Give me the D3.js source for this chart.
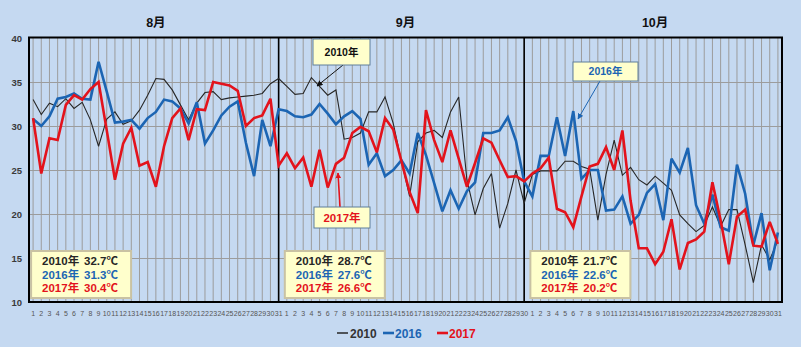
<!DOCTYPE html>
<html><head><meta charset="utf-8">
<script src="https://cdn.jsdelivr.net/npm/d3@7"></script>
<style>
html,body{margin:0;padding:0;background:#c5d9f1;}
svg{display:block;font-family:"Liberation Sans",Arial,"Noto Sans CJK JP",sans-serif;}
</style></head>
<body><svg id="c" width="801" height="347"></svg>
<script>
// ---- data ----
const monthLabels = ["8月", "9月", "10月"];
const monthNums = [8, 9, 10];
const monthDays = [31, 30, 31];
const yTicks = [10, 15, 20, 25, 30, 35, 40];
const seriesNames = ["2010", "2016", "2017"];

const t2010 = [
  33.0,31.3,32.6,32.2,33.1,32.0,32.7,30.7,27.7,30.8,31.6,30.2,30.6,31.8,33.5,35.4,35.3,34.1,32.4,30.7,32.6,33.8,33.9,33.0,33.2,33.3,33.4,33.5,33.7,34.8,35.4,
  34.5,33.6,33.7,35.5,34.5,33.5,34.1,28.5,28.7,29.2,31.6,31.6,33.3,30.3,26.0,22.0,28.2,29.2,29.5,28.7,31.6,33.3,23.9,19.9,22.9,24.6,18.4,21.2,25.0,21.2,
  24.5,24.9,24.9,24.9,26.0,26.0,25.4,25.1,19.3,24.5,28.4,24.4,25.3,23.9,23.3,24.3,23.5,22.7,19.9,18.9,18.0,18.7,20.8,18.6,20.5,20.5,16.5,12.2,16.5,14.8,17.0
];
const t2016 = [
  30.8,30.0,31.1,33.1,33.3,33.7,33.1,33.0,37.3,33.9,30.4,30.5,30.7,29.7,30.9,31.6,33.0,32.8,32.0,30.3,32.7,28.0,29.5,31.2,32.2,32.8,28.1,24.3,30.7,27.7,31.9,
  31.7,31.1,31.0,31.3,32.5,31.4,30.2,31.1,31.7,30.8,25.6,26.9,24.3,25.0,26.1,24.6,29.2,26.7,23.5,20.3,22.7,20.6,22.6,23.6,29.2,29.2,29.5,31.0,28.3,23.7,
  22.0,26.6,26.6,31.0,26.6,31.7,24.0,25.0,25.0,20.4,20.5,22.0,18.9,19.9,22.4,23.4,19.3,26.3,24.7,27.5,21.0,18.9,22.2,18.5,18.1,25.6,22.3,16.5,20.1,13.6,17.9
];
const t2017 = [
  30.9,24.6,28.6,28.4,32.4,33.5,33.0,34.2,35.0,29.5,23.9,28.0,29.8,25.5,25.9,23.1,27.7,30.9,32.0,28.4,31.9,31.8,35.0,34.8,34.6,34.0,30.0,30.9,31.2,33.1,25.5,
  26.9,25.2,26.4,23.1,27.3,23.0,25.7,26.4,29.2,29.9,29.4,27.0,30.9,29.6,26.0,22.5,20.1,31.8,28.4,25.9,29.5,26.3,23.1,25.8,28.6,28.1,26.1,24.2,24.3,23.7,
  24.6,25.2,26.4,20.6,20.2,18.5,22.0,25.4,25.7,27.6,25.0,29.5,21.5,16.1,16.1,14.3,15.7,19.4,13.7,16.7,17.1,18.0,23.6,19.3,14.3,19.7,20.5,16.4,16.3,19.1,16.6
];
const avg2010 = ["32.7", "28.7", "21.7"];
const avg2016 = ["31.3", "27.6", "22.6"];
const avg2017 = ["30.4", "26.6", "20.2"];

// ---- derived ----
const categories = [];
monthNums.forEach((m, mi) => { for (let d = 1; d <= monthDays[mi]; d++) categories.push(m + "/" + d); });
const dayOf = c => c.split("/")[1];

const colors = { "2010": "#262626", "2016": "#1c65b3", "2017": "#e3131c" };
const widths = { "2010": 1.1, "2016": 2.6, "2017": 2.6 };
const series = [
  { name: "2010", values: t2010, avg: avg2010 },
  { name: "2016", values: t2016, avg: avg2016 },
  { name: "2017", values: t2017, avg: avg2017 }
];

const L = 29, R = 782, T = 38, B = 302;
const svg = d3.select("#c");
const x = d3.scalePoint().domain(categories).range([L, R]).padding(0.5);
const y = d3.scaleLinear().domain([10, 40]).range([B, T]);

// grid
const g = svg.append("g");
g.selectAll(".vg").data(categories).join("line")
  .attr("x1", d => x(d)).attr("x2", d => x(d)).attr("y1", T).attr("y2", B)
  .attr("stroke", "#9c9c9c").attr("stroke-width", 1);
g.selectAll(".hg").data(yTicks.filter(v => v > 10 && v < 40)).join("line")
  .attr("x1", L).attr("x2", R).attr("y1", d => Math.round(y(d)) + 0.5).attr("y2", d => Math.round(y(d)) + 0.5)
  .attr("stroke", "#9c9c9c").attr("stroke-width", 1);

// y labels
svg.append("g").selectAll("text").data(yTicks).join("text")
  .attr("x", 22).attr("y", d => y(d) + 3.5).attr("text-anchor", "end")
  .attr("font-size", 9.5).attr("font-weight", "bold").attr("fill", "#3a3a3a").text(d => d);

// x labels
svg.append("g").selectAll("text").data(categories).join("text")
  .attr("x", d => x(d)).attr("y", 316).attr("text-anchor", "middle")
  .attr("font-size", 7).attr("fill", "#555").text(d => dayOf(d));

// month labels & dividers
let start = 0;
monthNums.forEach((m, mi) => {
  const first = categories[start], last = categories[start + monthDays[mi] - 1];
  svg.append("text").attr("x", (x(first) + x(last)) / 2).attr("y", 27)
    .attr("text-anchor", "middle").attr("font-size", 12.5).attr("font-weight", "bold")
    .attr("fill", "#111").text(monthLabels[mi]);
  if (mi < monthNums.length - 1) {
    svg.append("line").attr("x1", x(last)).attr("x2", x(last)).attr("y1", T).attr("y2", B)
      .attr("stroke", "#000").attr("stroke-width", 1.6);
  }
  // summary box
  const bx = x(first) - 2, by = 251;
  svg.append("rect").attr("x", bx).attr("y", by).attr("width", 100).attr("height", 47)
    .attr("fill", "#ffffcc").attr("stroke", "#c9c2a3").attr("stroke-width", 2);
  series.forEach((s, si) => {
    const ty = 265 + si * 13.7;
    svg.append("text").attr("x", bx + 11).attr("y", ty).attr("font-size", 11.5).attr("font-weight", "bold")
      .attr("fill", colors[s.name]).text(s.name + "年");
    svg.append("text").attr("x", bx + 53).attr("y", ty).attr("font-size", 11.5).attr("font-weight", "bold")
      .attr("fill", colors[s.name]).text(s.avg[mi] + "℃");
  });
  start += monthDays[mi];
});

// frame
svg.append("rect").attr("x", L).attr("y", T - 0.5).attr("width", R - L).attr("height", B - T + 0.5)
  .attr("fill", "none").attr("stroke", "#000").attr("stroke-width", 2);

// lines
const line = d3.line().x((d, i) => x(categories[i])).y(d => y(d));
series.forEach(s => {
  svg.append("path").attr("d", line(s.values)).attr("fill", "none")
    .attr("stroke", colors[s.name]).attr("stroke-width", widths[s.name])
    .attr("stroke-linejoin", "miter").attr("stroke-miterlimit", 3);
});

// arrow markers
const defs = svg.append("defs");
Object.entries({ k: "#111", b: "#1c65b3", r: "#e3131c" }).forEach(([k, c]) => {
  defs.append("marker").attr("id", "m" + k).attr("viewBox", "0 0 10 10").attr("refX", 9).attr("refY", 5)
    .attr("markerWidth", 6).attr("markerHeight", 6).attr("markerUnits", "userSpaceOnUse").attr("orient", "auto")
    .append("path").attr("d", "M0,0L10,5L0,10z").attr("fill", c);
});

// annotations
const notes = [
  { text: "2010年", c: "#111", m: "k", bx: 313, by: 39, bw: 57, bh: 26, fs: 10.5, ax1: 343, ay1: 65, ax2: 317, ay2: 86 },
  { text: "2016年", c: "#1c65b3", m: "b", bx: 573, by: 62, bw: 65, bh: 19, fs: 10.5, ax1: 600, ay1: 81, ax2: 578, ay2: 119 },
  { text: "2017年", c: "#e3131c", m: "r", bx: 314, by: 207, bw: 56, bh: 21, fs: 11.5, ax1: 340, ay1: 207, ax2: 338, ay2: 173 }
];
notes.forEach(n => {
  svg.append("line").attr("x1", n.ax1).attr("y1", n.ay1).attr("x2", n.ax2).attr("y2", n.ay2)
    .attr("stroke", n.c).attr("stroke-width", n.m === "r" ? 1.6 : 1).attr("marker-end", "url(#m" + n.m + ")");
  svg.append("rect").attr("x", n.bx).attr("y", n.by).attr("width", n.bw).attr("height", n.bh)
    .attr("fill", "#ffffcc").attr("stroke", "#5f7f9c").attr("stroke-width", 1);
  svg.append("text").attr("x", n.bx + n.bw / 2).attr("y", n.by + n.bh / 2 + n.fs * 0.36)
    .attr("text-anchor", "middle").attr("font-size", n.fs).attr("font-weight", "bold")
    .attr("fill", n.c).text(n.text);
});

// legend
const leg = [
  { name: "2010", lx: 337, tx: 350 },
  { name: "2016", lx: 383, tx: 395 },
  { name: "2017", lx: 437, tx: 449 }
];
leg.forEach(l => {
  svg.append("line").attr("x1", l.lx).attr("x2", l.lx + 11).attr("y1", 333).attr("y2", 333)
    .attr("stroke", colors[l.name]).attr("stroke-width", l.name === "2010" ? 1.5 : 2.6);
  svg.append("text").attr("x", l.tx).attr("y", 337.5).attr("font-size", 12).attr("font-weight", "bold")
    .attr("fill", l.name === "2010" ? "#333" : colors[l.name]).text(l.name);
});
</script></body></html>
